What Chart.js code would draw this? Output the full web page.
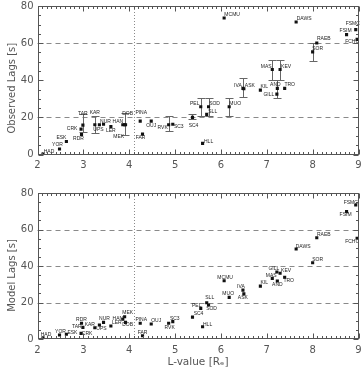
<!DOCTYPE html>
<html><head><meta charset="utf-8">
<script src="https://cdn.jsdelivr.net/npm/chart.js@4.4.1/dist/chart.umd.min.js"></script>
<style>
html,body{margin:0;padding:0;background:#fff;}
#wrap{position:relative;width:364px;height:369px;overflow:hidden;background:#fff;}
.box{position:absolute;left:0;width:364px;}
</style></head><body>
<div id="wrap">
<div class="box" style="top:0;height:184px"><canvas id="c1" width="364" height="184"></canvas></div>
<div class="box" style="top:184px;height:185px"><canvas id="c2" width="364" height="185"></canvas></div>
</div>
<script>
// ---------------- DATA ----------------
const stations = ["HAD","YOR","ESK","CRK","RDR","TAR","KAR","UPS","NUR","LER","HAN","MEK","DOB","PINA","FAR","OUJ","RVK","SC3","SC4","PEL","HLL","SLL","SOD","MCMU","MUO","IVA","ASK","KIL","MAS","GILL","AND","KEV","TRO","DAWS","SOR","RAEB","FSIM","FSMC","FCHU"];
const lValue = [2.12,2.48,2.63,2.95,2.96,2.99,3.25,3.35,3.44,3.60,3.86,3.90,3.92,4.24,4.29,4.48,4.86,4.95,5.38,5.56,5.60,5.69,5.73,6.07,6.18,6.48,6.50,6.86,7.12,7.22,7.23,7.29,7.39,7.64,8.00,8.09,8.74,8.94,8.97];
const observedLag = [0.2,3,7,13.7,10.8,15.8,16,16,16.3,15,16,16,16,18,11,18,16,16.3,20,25.7,6,21.6,25.7,73.5,25.7,35.6,35.4,34.7,45.8,32.5,35.6,45.8,35.6,71.4,55.3,60.1,64.6,67.3,62];
const observedErrLow = [null,null,null,null,null,12,11.5,null,null,null,null,10.5,null,null,null,null,12.6,null,19,20.5,null,null,20.5,null,20.5,30.8,null,null,40,null,30.7,40,null,null,50.4,null,null,null,null];
const observedErrHigh = [null,null,null,null,null,22,21,null,null,null,null,22.5,null,null,null,null,21,null,22,30.5,null,null,30.5,null,30.5,41,null,null,51,null,40.4,51,null,null,60,null,null,null,null];
const modelLag = [0.7,2.2,2.6,3.1,8.6,6.4,6.2,7.7,9.1,7.1,10.8,12.2,9.1,8.6,1.8,8.2,8.6,9.5,12,16.8,6.7,19.9,18.6,31.9,22.8,26.8,24.7,29,33.2,36.7,31.8,36,33.8,49.3,41.8,55.5,69.8,73.4,55.2];
const xTickValues = [2,3,4,5,6,7,8,9];
const yTickValues = [0,20,40,60,80];

// ---------------- LAYOUT (label offsets in px, label centre relative to point) ----------------
const topLabelOffset = {HAD:[6,-3],YOR:[-2,-4],ESK:[-5,-4],CRK:[-9,0],RDR:[-3,4],TAR:[0,-12],KAR:[0,-12],UPS:[-1,5],NUR:[2,-3],LER:[0,4],HAN:[-5,-3],MEK:[-6,12],DOB:[2,-11],PINA:[1,-8],FAR:[-2,4],OUJ:[0,5],RVK:[-6,3],SC3:[6,2],SC4:[1,8],PEL:[-6,-3],HLL:[6,-2],SLL:[6,-3],SOD:[6,-3],MCMU:[8,-3],MUO:[6,-3],IVA:[-5,-3],ASK:[6,-3.5],KIL:[4,-3],MAS:[-6,-3],GILL:[-8,0],AND:[-2,-3.5],KEV:[6,-3],TRO:[5,-3.5],DAWS:[8,-3],SOR:[5,-3],RAEB:[7,-4],FSIM:[-1,-3.5],FSMC:[-3,-6],FCHU:[-5,2.5]};
const bottomLabelOffset = {HAD:[3,-3],YOR:[1,-3],ESK:[6,-2],CRK:[6,0],RDR:[0,-4],TAR:[-6,-1],KAR:[-5,-3],UPS:[2,4],NUR:[1,-4],LER:[6,-3],HAN:[-5,-1],MEK:[3,-4],DOB:[2,2.5],PINA:[1,-4],FAR:[0,-3.5],OUJ:[5,-3],RVK:[1,4],SC3:[2,-3],SC4:[6,-3],HLL:[5,-2.5],PEL:[-4,-3],SLL:[3,-5],SOD:[3,3.5],MCMU:[1,-3],MUO:[-1,-3.5],IVA:[-2,-3.5],ASK:[-1,4],KIL:[4,-3],MAS:[-1,-2.5],GILL:[-3,-3.5],AND:[0,4],KEV:[6,-3],TRO:[4,3.5],DAWS:[7,-2.5],SOR:[5,-3],RAEB:[7,-3],FSIM:[-1,3.5],FSMC:[-5,-2],FCHU:[-5,3.5]};

const AXIS_FONT = {family:"'DejaVu Sans', sans-serif", size:10};
const TEXT_COLOR = '#555';

const framePlugin = {
  id: 'frame',
  beforeDatasetsDraw(chart) {
    const o = chart.options.plugins.frame;
    const {ctx, chartArea: a} = chart;
    const xs = chart.scales.x, ys = chart.scales.y;
    ctx.save();
    ctx.lineWidth = 1;
    ctx.strokeStyle = '#8a8a8a';
    ctx.setLineDash([5, 4]);
    o.dashY.forEach(v => {
      const p = Math.round(ys.getPixelForValue(v)) + 0.5;
      ctx.beginPath(); ctx.moveTo(a.left, p); ctx.lineTo(a.right, p); ctx.stroke();
    });
    ctx.setLineDash([1, 2]);
    const px = Math.round(xs.getPixelForValue(o.dotX)) + 0.5;
    ctx.beginPath(); ctx.moveTo(px, a.top); ctx.lineTo(px, a.bottom); ctx.stroke();
    ctx.setLineDash([]);
    if (o.errLo) {
      ctx.strokeStyle = '#666';
      o.errLo.forEach((lo, i) => {
        if (lo == null) return;
        const hi = o.errHi[i];
        const cx = Math.round(xs.getPixelForValue(lValue[i])) + 0.5;
        const y1 = Math.round(ys.getPixelForValue(lo)) + 0.5;
        const y2 = Math.round(ys.getPixelForValue(hi)) + 0.5;
        ctx.beginPath();
        ctx.moveTo(cx, y1); ctx.lineTo(cx, y2);
        ctx.moveTo(cx - 4, y1); ctx.lineTo(cx + 4, y1);
        ctx.moveTo(cx - 4, y2); ctx.lineTo(cx + 4, y2);
        ctx.stroke();
      });
    }
    ctx.restore();
  },
  afterDatasetsDraw(chart) {
    const o = chart.options.plugins.frame;
    const {ctx} = chart;
    const meta = chart.getDatasetMeta(0);
    ctx.save();
    ctx.font = "5px 'Liberation Sans', sans-serif";
    ctx.fillStyle = '#222';
    ctx.textAlign = 'center';
    ctx.textBaseline = 'middle';
    meta.data.forEach((pt, i) => {
      const off = o.labelOffset[stations[i]] || [6, -3];
      ctx.fillText(stations[i], pt.x + off[0], pt.y + off[1]);
    });
    ctx.restore();
  },
  afterDraw(chart) {
    const {ctx, chartArea: a} = chart;
    const xs = chart.scales.x, ys = chart.scales.y;
    ctx.save();
    ctx.strokeStyle = '#555';
    ctx.lineWidth = 1;
    const L = Math.round(a.left) + 0.5, R = Math.round(a.right) - 0.5;
    const T = Math.round(a.top) + 0.5, B = Math.round(a.bottom) - 0.5;
    ctx.strokeRect(L, T, R - L, B - T);
    ctx.beginPath();
    for (let k = 0; k <= 70; k++) {
      const v = 2 + k * 0.1;
      const p = Math.round(xs.getPixelForValue(v)) + 0.5;
      const len = (k % 10 === 0) ? 5 : 2.5;
      ctx.moveTo(p, B); ctx.lineTo(p, B - len);
      ctx.moveTo(p, T); ctx.lineTo(p, T + len);
    }
    for (let v = 0; v <= 80; v += 5) {
      const p = Math.round(ys.getPixelForValue(v)) + 0.5;
      const len = (v % 20 === 0) ? 5 : 2.5;
      ctx.moveTo(L, p); ctx.lineTo(L + len, p);
      ctx.moveTo(R, p); ctx.lineTo(R - len, p);
    }
    ctx.stroke();
    ctx.restore();
  }
};

function makeChart(canvasId, values, opts) {
  const H = opts.height;
  return new Chart(document.getElementById(canvasId), {
    type: 'scatter',
    data: {
      datasets: [{
        data: stations.map((s, i) => ({x: lValue[i], y: values[i]})),
        pointStyle: 'rect',
        pointRadius: 2.2,
        pointHoverRadius: 2.2,
        backgroundColor: '#111',
        borderColor: '#111',
        borderWidth: 0,
        showLine: false
      }]
    },
    options: {
      responsive: false,
      animation: false,
      devicePixelRatio: 1,
      layout: {padding: {left: 0, right: 5.5, top: opts.top, bottom: 0}},
      plugins: {
        legend: {display: false},
        tooltip: {enabled: false},
        frame: {dashY: opts.dashY, dotX: 4.1, errLo: opts.errLo, errHi: opts.errHi, labelOffset: opts.labelOffset}
      },
      scales: {
        x: {
          type: 'linear', min: 2, max: 9,
          afterBuildTicks: s => { s.ticks = xTickValues.map(v => ({value: v})); },
          afterFit: s => { s.height = H - opts.plotBottom; s.paddingLeft = 0; s.paddingRight = 0; },
          grid: {display: false, drawTicks: false},
          border: {display: false},
          ticks: {font: AXIS_FONT, color: TEXT_COLOR, padding: 5, maxRotation: 0, autoSkip: false},
          title: opts.xTitle ? {display: true, text: opts.xTitle, font: {family: "'DejaVu Sans', sans-serif", size: 10.5}, color: TEXT_COLOR, padding: {top: 1, bottom: 0}} : {display: false}
        },
        y: {
          type: 'linear', min: 0, max: 80,
          afterBuildTicks: s => { s.ticks = yTickValues.map(v => ({value: v})); },
          afterFit: s => { s.width = 37.5; s.paddingTop = 0; s.paddingBottom = 0; },
          grid: {display: false, drawTicks: false},
          border: {display: false},
          ticks: {font: AXIS_FONT, color: TEXT_COLOR, padding: 4},
          title: {display: true, text: opts.yTitle, font: {family: "'DejaVu Sans', sans-serif", size: 10}, color: TEXT_COLOR, padding: {top: 6, bottom: 0}}
        }
      }
    },
    plugins: [framePlugin]
  });
}

makeChart('c1', observedLag, {
  height: 184, top: 6, plotBottom: 154.5,
  dashY: [20, 60], errLo: observedErrLow, errHi: observedErrHigh,
  labelOffset: topLabelOffset,
  yTitle: 'Observed Lags [s]     ', xTitle: null
});
makeChart('c2', modelLag, {
  height: 185, top: 9, plotBottom: 155,
  dashY: [20, 40, 60], errLo: null, errHi: null,
  labelOffset: bottomLabelOffset,
  yTitle: 'Model Lags [s]      ', xTitle: 'L-value [Rₑ]'
});
</script>
</body></html>
